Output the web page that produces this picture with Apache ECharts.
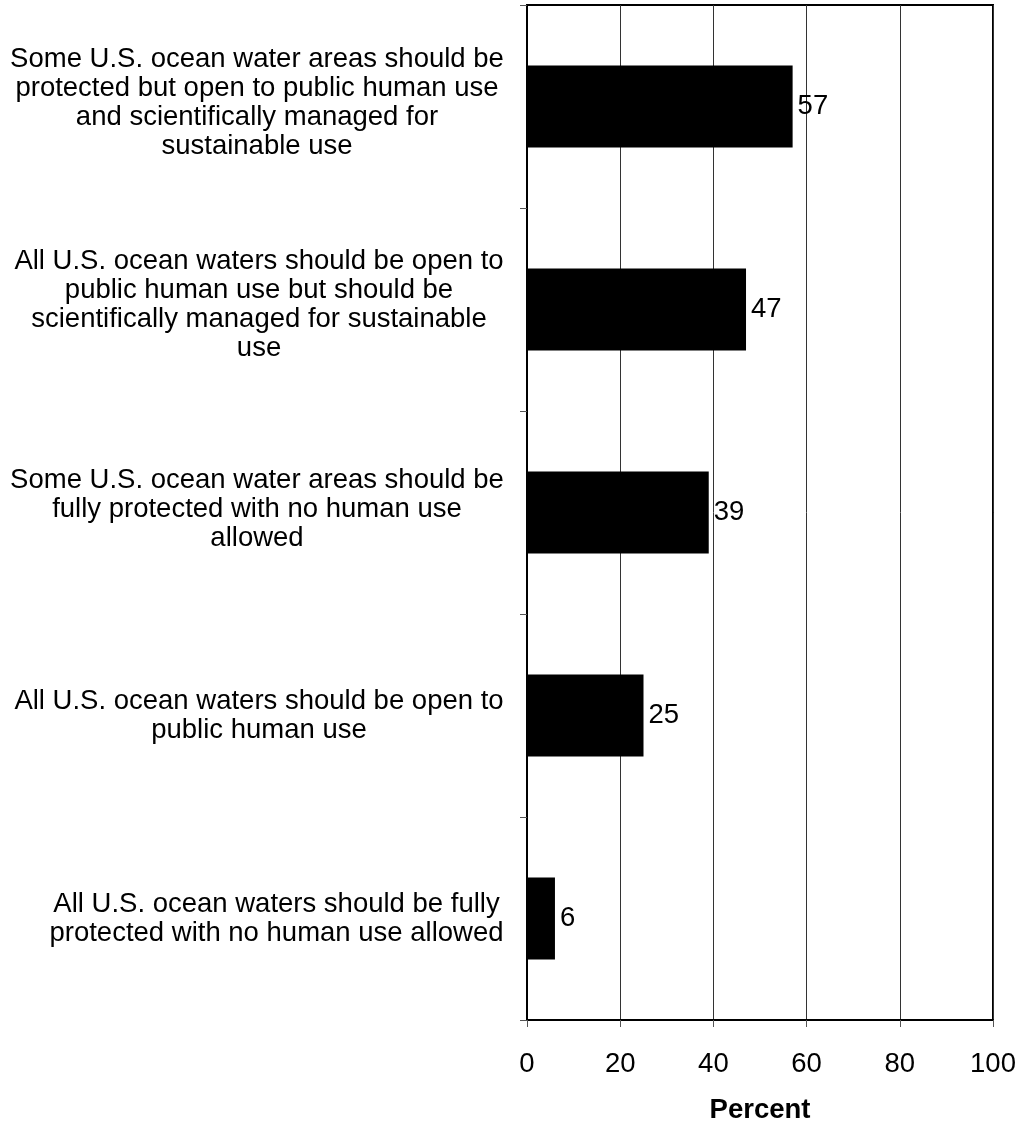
<!DOCTYPE html>
<html>
<head>
<meta charset="utf-8">
<script src="https://cdn.jsdelivr.net/npm/echarts@6/dist/echarts.min.js"></script>
<style>
  html, body { margin: 0; padding: 0; background: #fff; }
  #opinionBar { width: 1022px; height: 1121px; }
</style>
</head>
<body>
<div id="opinionBar"></div>
<script>
const categories = [
  "Some U.S. ocean water areas should be\nprotected but open to public human use\nand scientifically managed for\nsustainable use",
  "All U.S. ocean waters should be open to\npublic human use but should be\nscientifically managed for sustainable\nuse",
  "Some U.S. ocean water areas should be\nfully protected with no human use\nallowed",
  "All U.S. ocean waters should be open to\npublic human use",
  "All U.S. ocean waters should be fully\nprotected with no human use allowed"
];
const percents = [57, 47, 39, 25, 6];
const xTicks = [0, 20, 40, 60, 80, 100];

const FONT = '"Liberation Sans", Arial, sans-serif';
const SIZE = 27.5;
const LINE_H = 29;
// how far (px) each label block sits above its band centre
const labelLift = [4, 5, 3, 0, 0];

// each label block is centred on its own widest line, blocks right-aligned
const ctx = document.createElement("canvas").getContext("2d");
ctx.font = SIZE + "px " + FONT;
const rich = {};
categories.forEach((c, i) => {
  let w = 0;
  c.split("\n").forEach((line) => {
    w = Math.max(w, ctx.measureText(line).width);
  });
  rich["l" + i] = {
    width: Math.ceil(w),
    align: "center",
    fontSize: SIZE,
    lineHeight: LINE_H,
    fontFamily: FONT,
    color: "#000",
  };
  rich["s" + i] = { fontSize: 1, lineHeight: labelLift[i] * 2 };
});

const myChart = echarts.init(document.getElementById("opinionBar"));
myChart.setOption({
  animation: false,
  grid: {
    left: 527,
    right: 29,
    top: 5,
    bottom: 101,
    containLabel: false,
    outerBoundsMode: "none",
    show: true,
    borderColor: "#000",
    borderWidth: 2,
  },
  xAxis: {
    type: "value",
    min: xTicks[0],
    max: xTicks[xTicks.length - 1],
    interval: 20,
    name: "Percent",
    nameLocation: "middle",
    nameGap: 76,
    nameTextStyle: {
      fontFamily: FONT,
      fontSize: SIZE,
      fontWeight: "bold",
      color: "#000",
    },
    axisLine: { show: true, lineStyle: { color: "#000", width: 2 } },
    axisTick: { show: true, length: 7, lineStyle: { color: "#555" } },
    axisLabel: {
      margin: 30,
      fontFamily: FONT,
      fontSize: SIZE,
      color: "#000",
    },
    splitLine: { show: true, lineStyle: { color: "#333", width: 1 } },
  },
  yAxis: {
    type: "category",
    data: categories,
    inverse: true,
    axisLine: { show: true, lineStyle: { color: "#000", width: 2 } },
    axisTick: { show: true, length: 7, lineStyle: { color: "#555" } },
    axisLabel: {
      interval: 0,
      margin: 23,
      align: "right",
      formatter: (value, index) => {
        let txt = value
          .split("\n")
          .map((s) => "{l" + index + "|" + s + "}")
          .join("\n");
        if (labelLift[index] > 0) txt += "\n{s" + index + "| }";
        return txt;
      },
      rich: rich,
    },
    splitLine: { show: false },
  },
  series: [
    {
      type: "bar",
      data: percents,
      barWidth: 82,
      itemStyle: { color: "#000" },
      label: {
        show: true,
        position: "right",
        distance: 5,
        fontFamily: FONT,
        fontSize: SIZE,
        color: "#000",
      },
    },
  ],
});
</script>
</body>
</html>
